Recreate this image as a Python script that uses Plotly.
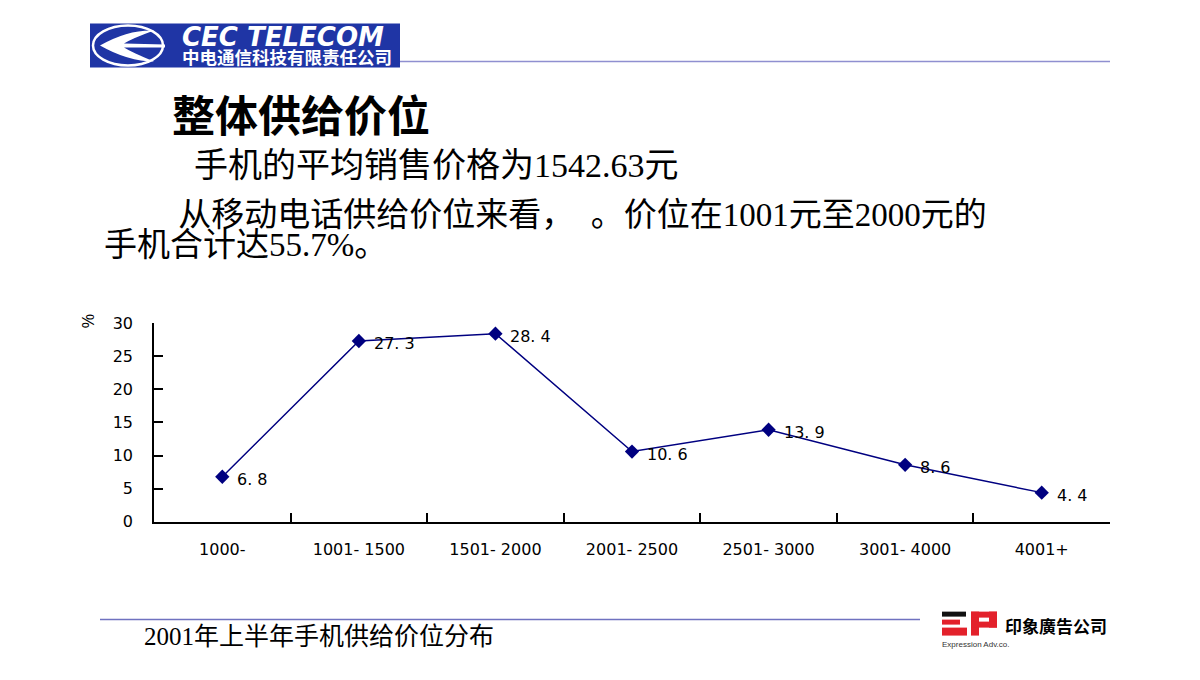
import plotly.graph_objects as go

# The page body has an 8px margin, so the figure is drawn 8px in from the corner.
OFF = 8
W, H = 1200 - 2 * OFF, 680 - 2 * OFF
# empirical vertical correction observed in the rendered page
VA, VB = 8.6, 0.973

categories = ["1000-", "1001-1500", "1501-2000", "2001-2500", "2501-3000", "3001-4000", "4001+"]
shares = [6.8, 27.3, 28.4, 10.6, 13.9, 8.6, 4.4]
y_ticks = [0, 5, 10, 15, 20, 25, 30]

title_text = "整体供给价位"
line1_text = "手机的平均销售价格为1542.63元"
line2_text = "从移动电话供给价位来看<span style=\"font-family:Noto Sans CJK SC\">，　。</span>价位在1001元至2000元的"
line3_text = "手机合计达55.7%。"
caption_text = "2001年上半年手机供给价位分布"
logo_name = "CEC TELECOM"
logo_cn = "中电通信科技有限责任公司"
ep_name = "印象廣告公司"
ep_sub = "Expression Adv.co."


def px(x):
    return (x - OFF) / W


def py(y):
    ys = (y - VA) / VB
    return 1 - (ys - OFF) / H


NAVY = "#000080"
SERIF = "Liberation Serif, Noto Sans CJK SC, serif"
SANS = "Liberation Sans, Arial, sans-serif"
WIDE = "DejaVu Sans, sans-serif"
CJK = "Noto Sans CJK SC, sans-serif"

fig = go.Figure()
fig.add_trace(go.Scatter(
    x=categories, y=shares, mode="lines+markers",
    line=dict(color=NAVY, width=1.5),
    marker=dict(symbol="diamond", size=11, color=NAVY),
    hoverinfo="x+y", showlegend=False,
))

annotations = []
for c, v in zip(categories, shares):
    annotations.append(dict(
        x=c, y=v, xref="x", yref="y", text=f"{v:.1f}".replace(".", ". "),
        showarrow=False, xanchor="left", yanchor="middle", xshift=13, yshift=-3,
        font=dict(family=WIDE, size=16, color="#000000"),
    ))

# % unit label
annotations.append(dict(x=px(88), y=py(321), xref="paper", yref="paper", text="%",
                        textangle=90, showarrow=False, xanchor="center", yanchor="middle",
                        font=dict(family=SANS, size=16, color="#000")))

# two-line paragraph: base size 23 gives a 30px line pitch, spans carry the visible size
para = ("<span style=\"font-size:33px\">\u3000\u3000 " + line2_text + "</span><br>"
        "<span style=\"font-size:33px\">" + line3_text + "</span>")
logo_block = ("<span style=\"font-size:26px;font-family:DejaVu Sans;font-style:italic\">" + logo_name +
              "</span><br><span style=\"font-size:17.5px\">" + logo_cn + "</span>")

slide_texts = [
    dict(x=px(170), y=py(113), text=title_text, font=dict(family=CJK, size=43, color="#000", weight="bold")),
    dict(x=px(192), y=py(165), text=line1_text, font=dict(family=SERIF, size=34, color="#000")),
    dict(x=px(102), y=py(225), text=para, align="left", font=dict(family=SERIF, size=23, color="#000")),
    dict(x=px(142), y=py(637), text=caption_text, font=dict(family=SERIF, size=25, color="#000")),
    dict(x=px(180), y=py(45), text=logo_block, align="left",
         font=dict(family=CJK, size=14, color="#ffffff", weight="bold")),
    dict(x=px(1003), y=py(626), text=ep_name,
         font=dict(family=CJK, size=17, color="#000", weight="bold")),
    dict(x=px(940), y=py(645), text=ep_sub,
         font=dict(family=SANS, size=8, color="#333")),
]
for a in slide_texts:
    a.update(xref="paper", yref="paper", showarrow=False, xanchor="left", yanchor="middle")
annotations += slide_texts

RED = "#e3212b"


def prect(x0, y0, x1, y1, color):
    return dict(type="rect", xref="paper", yref="paper", x0=px(x0), x1=px(x1), y0=py(y1), y1=py(y0),
                fillcolor=color, line_width=0, layer="above")


shapes = [
    prect(90, 23, 400, 67, "#1f35a5"),
    dict(type="circle", xref="paper", yref="paper", x0=px(93), x1=px(163), y0=py(65), y1=py(25),
         line=dict(color="#ffffff", width=2.5)),
    dict(type="path", xref="paper", yref="paper",
         path=(f"M {px(100)} {py(45)} Q {px(128)} {py(29)} {px(154)} {py(30)} "
               f"Q {px(132)} {py(38)} {px(124)} {py(43)} L {px(165)} {py(44)} L {px(165)} {py(47)} "
               f"L {px(124)} {py(47)} Q {px(132)} {py(52)} {px(154)} {py(61)} "
               f"Q {px(128)} {py(61)} {px(100)} {py(45)} Z"),
         fillcolor="#ffffff", line_width=0),
    dict(type="line", xref="paper", yref="paper", x0=px(400), x1=px(1110), y0=py(61), y1=py(61),
         line=dict(color="#8f8fd0", width=1.5)),
    dict(type="line", xref="paper", yref="paper", x0=px(100), x1=px(920), y0=py(620), y1=py(620),
         line=dict(color="#6f72c0", width=1.5)),
    prect(942, 612, 966, 617, "#111111"),
    prect(942, 620, 960, 625, RED),
    prect(942, 628, 967, 636, RED),
    prect(971, 612, 979, 636, RED),
    prect(971, 612, 997, 618, RED),
    prect(989, 612, 997, 628, RED),
    prect(971, 622, 997, 628, RED),
]

fig.update_layout(
    width=W, height=H,
    margin=dict(l=0, r=0, t=0, b=0),
    paper_bgcolor="#ffffff", plot_bgcolor="#ffffff",
    annotations=annotations, shapes=shapes,
    xaxis=dict(
        domain=[px(154), px(1110)], range=[-0.5, 6.5], type="category",
        tickmode="array", tickvals=categories,
        ticktext=[c if c.endswith("-") else c.replace("-", "- ") for c in categories],
        tickson="boundaries", ticks="inside", ticklen=9, tickwidth=1.5, tickcolor="#000",
        showline=True, linecolor="#000", linewidth=1.5, showgrid=False, zeroline=False,
        tickfont=dict(family=WIDE, size=16, color="#000"), ticklabelstandoff=12,
        fixedrange=True,
    ),
    yaxis=dict(
        domain=[py(522), py(323)], range=[0, 30],
        tickmode="array", tickvals=y_ticks, ticktext=[str(t) for t in y_ticks],
        ticks="inside", ticklen=9, tickwidth=1.5, tickcolor="#000",
        showline=True, linecolor="#000", linewidth=1.5, showgrid=False, zeroline=False,
        tickfont=dict(family=WIDE, size=16, color="#000"), ticklabelstandoff=16,
        fixedrange=True,
    ),
)

fig.write_html("out.html")
